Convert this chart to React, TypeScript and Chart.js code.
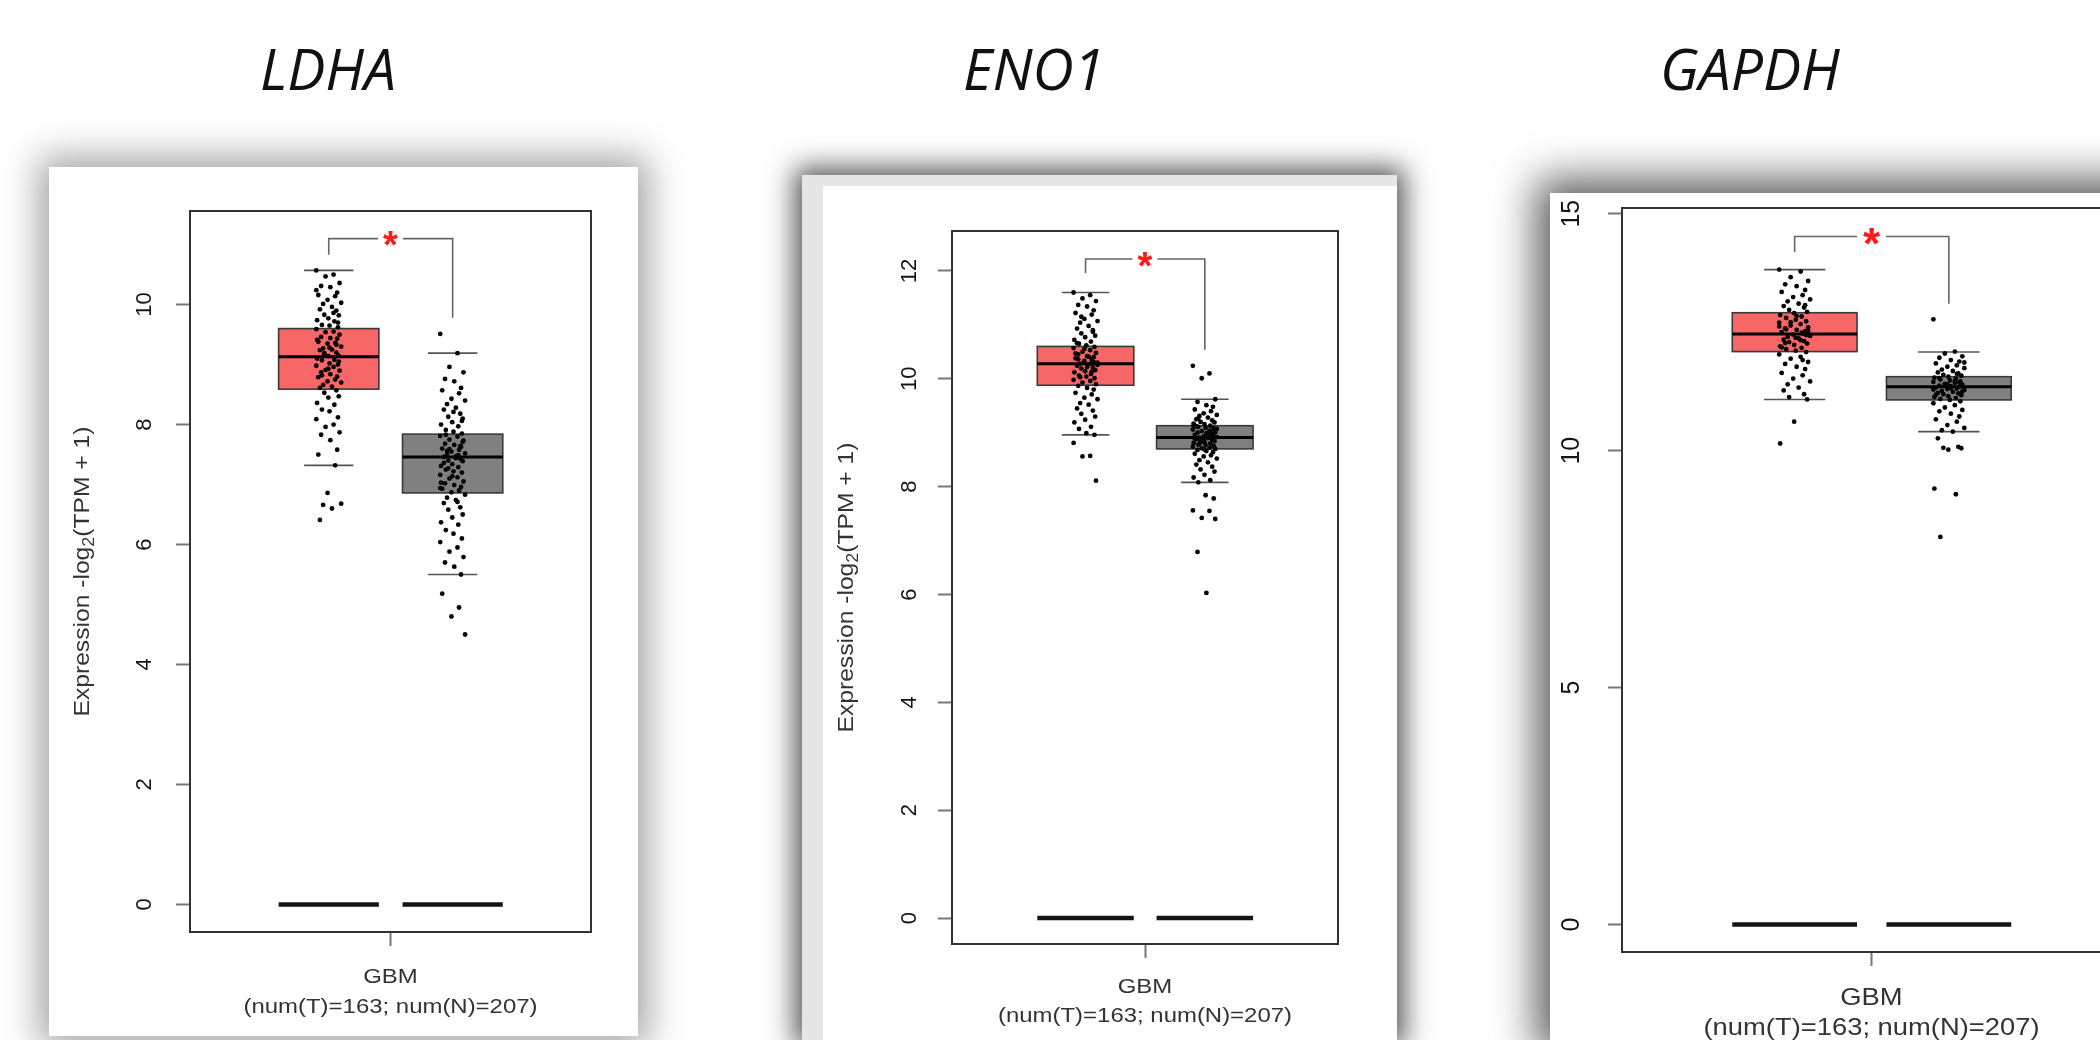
import React, { useEffect, useRef } from 'react';
import { Chart, registerables } from 'chart.js';

Chart.register(...registerables);

// ---------------- data ----------------
const GENES = ['LDHA', 'ENO1', 'GAPDH'];
const CATEGORY = 'GBM';
const COUNTS_LABEL = '(num(T)=163; num(N)=207)';
const Y_TITLE_PARTS = ['Expression -log', '2', '(TPM + 1)'];
const SIGNIF = '*';
const ZERO_LEVEL = 0;

const LDHA_Y_TICKS = [0, 2, 4, 6, 8, 10];
const ENO1_Y_TICKS = [0, 2, 4, 6, 8, 10, 12];
const GAPDH_Y_TICKS = [0, 5, 10, 15];

const LDHA_Y_RANGE = [-0.46, 11.56];
const ENO1_Y_RANGE = [-0.48, 12.74];
const GAPDH_Y_RANGE = [-0.58, 15.12];

// [lower whisker, Q1, median, Q3, upper whisker]
const LDHA_T_BOX = [7.32, 8.59, 9.13, 9.6, 10.57];
const LDHA_N_BOX = [5.5, 6.86, 7.46, 7.84, 9.19];
const ENO1_T_BOX = [8.96, 9.88, 10.28, 10.6, 11.6];
const ENO1_N_BOX = [8.08, 8.7, 8.91, 9.13, 9.62];
const GAPDH_T_BOX = [11.08, 12.09, 12.46, 12.91, 13.82];
const GAPDH_N_BOX = [10.4, 11.07, 11.35, 11.56, 12.08];

// [bracket top, left end, right end]
const LDHA_BRACKET = [11.1, 10.83, 9.78];
const ENO1_BRACKET = [12.22, 11.96, 10.54];
const GAPDH_BRACKET = [14.52, 14.19, 13.1];

const LDHA_T_POINTS = [10.57, 10.5, 10.47, 10.36, 10.31, 10.29, 10.2, 10.16, 10.14, 10.08, 10.03, 10.01, 9.96, 9.92, 9.9, 9.83, 9.82, 9.77, 9.74, 9.72, 9.66, 9.65, 9.62, 9.59, 9.55, 9.54, 9.5, 9.46, 9.44, 9.43, 9.38, 9.36, 9.35, 9.3, 9.27, 9.25, 9.24, 9.2, 9.17, 9.15, 9.14, 9.1, 9.08, 9.07, 9.02, 9.0, 8.98, 8.96, 8.91, 8.9, 8.87, 8.84, 8.8, 8.79, 8.75, 8.72, 8.7, 8.66, 8.63, 8.61, 8.57, 8.53, 8.47, 8.45, 8.36, 8.33, 8.25, 8.22, 8.12, 8.09, 8.0, 7.96, 7.87, 7.83, 7.74, 7.58, 7.5, 7.32, 6.86, 6.68, 6.66, 6.6, 6.41, 9.33, 9.19, 9.05, 8.93, 9.41, 9.12, 8.82, 9.28, 9.7, 10.24, 9.86];
const LDHA_N_POINTS = [9.51, 9.19, 8.96, 8.87, 8.76, 8.72, 8.61, 8.57, 8.52, 8.43, 8.4, 8.34, 8.28, 8.25, 8.18, 8.13, 8.1, 8.04, 8.0, 7.97, 7.91, 7.88, 7.85, 7.81, 7.8, 7.75, 7.73, 7.68, 7.66, 7.63, 7.6, 7.58, 7.55, 7.52, 7.5, 7.47, 7.46, 7.43, 7.4, 7.39, 7.34, 7.31, 7.29, 7.25, 7.22, 7.2, 7.16, 7.12, 7.1, 7.05, 7.02, 6.99, 6.96, 6.93, 6.9, 6.87, 6.83, 6.78, 6.74, 6.69, 6.62, 6.58, 6.5, 6.45, 6.37, 6.33, 6.24, 6.18, 6.1, 6.04, 5.95, 5.88, 5.79, 5.7, 5.63, 5.5, 5.18, 4.95, 4.8, 4.5, 7.56, 7.44, 7.36, 7.64, 7.27, 7.71, 7.14, 7.03, 7.49, 7.83, 8.21, 8.06, 6.94, 6.71, 7.59];
const ENO1_T_POINTS = [11.6, 11.55, 11.49, 11.44, 11.37, 11.34, 11.27, 11.22, 11.19, 11.11, 11.07, 11.04, 10.98, 10.93, 10.9, 10.84, 10.8, 10.77, 10.72, 10.69, 10.65, 10.62, 10.59, 10.57, 10.53, 10.5, 10.48, 10.45, 10.42, 10.4, 10.38, 10.35, 10.33, 10.3, 10.28, 10.27, 10.24, 10.21, 10.19, 10.16, 10.14, 10.12, 10.09, 10.06, 10.04, 10.01, 9.98, 9.96, 9.93, 9.9, 9.87, 9.83, 9.8, 9.74, 9.71, 9.65, 9.62, 9.55, 9.52, 9.45, 9.41, 9.35, 9.3, 9.24, 9.19, 9.11, 9.07, 8.99, 8.96, 8.81, 8.57, 8.56, 8.11, 10.36, 10.22, 10.31, 10.47, 10.13, 10.55, 10.26, 10.03, 10.41, 10.66, 10.87, 11.15];
const ENO1_N_POINTS = [10.24, 10.1, 10.01, 9.62, 9.57, 9.51, 9.48, 9.43, 9.4, 9.36, 9.33, 9.31, 9.28, 9.25, 9.23, 9.2, 9.19, 9.16, 9.14, 9.13, 9.11, 9.09, 9.08, 9.06, 9.04, 9.03, 9.01, 9.0, 8.99, 8.97, 8.96, 8.94, 8.93, 8.92, 8.91, 8.9, 8.88, 8.87, 8.86, 8.84, 8.83, 8.81, 8.8, 8.78, 8.77, 8.75, 8.74, 8.72, 8.71, 8.7, 8.68, 8.66, 8.64, 8.61, 8.58, 8.56, 8.52, 8.49, 8.45, 8.41, 8.37, 8.32, 8.28, 8.22, 8.17, 8.12, 8.08, 7.84, 7.78, 7.56, 7.55, 7.42, 7.4, 6.79, 6.03, 8.95, 8.89, 9.02, 8.85, 9.07, 8.79, 8.98, 9.12, 8.93, 8.82, 9.05, 8.69, 9.17, 8.91, 9.26];
const GAPDH_T_POINTS = [13.82, 13.78, 13.66, 13.58, 13.51, 13.47, 13.39, 13.35, 13.28, 13.24, 13.19, 13.15, 13.1, 13.05, 13.02, 12.97, 12.93, 12.9, 12.86, 12.83, 12.8, 12.76, 12.73, 12.7, 12.67, 12.64, 12.6, 12.58, 12.55, 12.52, 12.5, 12.47, 12.45, 12.42, 12.4, 12.37, 12.34, 12.31, 12.29, 12.26, 12.23, 12.2, 12.17, 12.14, 12.11, 12.08, 12.03, 11.98, 11.94, 11.87, 11.83, 11.77, 11.72, 11.64, 11.59, 11.52, 11.46, 11.4, 11.33, 11.27, 11.19, 11.13, 11.08, 10.61, 10.15, 12.49, 12.56, 12.38, 12.44, 12.62, 12.33, 12.71, 12.53, 12.27, 12.84, 13.07, 12.18, 11.91];
const GAPDH_N_POINTS = [12.77, 12.09, 12.05, 11.99, 11.96, 11.91, 11.88, 11.84, 11.8, 11.77, 11.74, 11.71, 11.68, 11.65, 11.63, 11.6, 11.58, 11.56, 11.54, 11.52, 11.5, 11.48, 11.46, 11.45, 11.43, 11.41, 11.39, 11.37, 11.36, 11.35, 11.33, 11.31, 11.3, 11.28, 11.26, 11.24, 11.22, 11.21, 11.19, 11.17, 11.15, 11.13, 11.11, 11.09, 11.07, 11.04, 11.0, 10.96, 10.91, 10.86, 10.83, 10.78, 10.72, 10.66, 10.61, 10.54, 10.48, 10.43, 10.4, 10.26, 10.08, 10.06, 10.05, 10.02, 9.2, 9.08, 8.18, 11.34, 11.42, 11.29, 11.47, 11.38, 11.25, 11.53, 11.32, 11.44, 11.18, 11.62, 11.4, 11.86];

// horizontal jitter of the points (x units)
const JITTER = [-0.031, 0.012, -0.008, 0.027, -0.019, 0.004, 0.021, -0.026, 0.016, -0.003, 0.031, -0.014, 0.008, -0.022, 0.019, -0.011, 0.025, -0.001, -0.029, 0.014, -0.017, 0.002, 0.023];

// ---------------- layout / style ----------------
const X_RANGE = [0.5, 1.5];
const CAT_POS = 1;
const GROUP_POS = [0.846, 1.155];
const BOX_W = 0.25;
const CAP_W = 0.123;
const T_FILL = '#F86767';
const N_FILL = '#808080';
const TICK_LEN = 14;
const SANS = '"Liberation Sans", Arial, Helvetica, sans-serif';

type Spec = {
  gene: string;
  tBox: number[]; nBox: number[];
  tPts: number[]; nPts: number[];
  bracket: number[];
  yRange: number[]; yTicks: number[];
  card: { left: number; top: number; width: number; height: number };
  band?: { left: number; top: number };
  shadow: string;
  area: { left: number; right: number; top: number; bottom: number };
  tickLabelDx: number;
  titleDx: number | null;
  labelDy: number[];
  tickFont: number; labelFont: number; titleFont: number; starFont: number;
  titleCx: number;
};

const SPECS: Spec[] = [
  {
    gene: GENES[0], tBox: LDHA_T_BOX, nBox: LDHA_N_BOX, tPts: LDHA_T_POINTS, nPts: LDHA_N_POINTS,
    bracket: LDHA_BRACKET, yRange: LDHA_Y_RANGE, yTicks: LDHA_Y_TICKS,
    card: { left: 49, top: 167, width: 589, height: 869 },
    shadow: '0 0 34px 10px rgba(0,0,0,0.36)',
    area: { left: 141, right: 542, top: 44, bottom: 765 },
    tickLabelDx: -45, titleDx: -107, labelDy: [45, 75],
    tickFont: 22, labelFont: 21, titleFont: 22, starFont: 38, titleCx: 328,
  },
  {
    gene: GENES[1], tBox: ENO1_T_BOX, nBox: ENO1_N_BOX, tPts: ENO1_T_POINTS, nPts: ENO1_N_POINTS,
    bracket: ENO1_BRACKET, yRange: ENO1_Y_RANGE, yTicks: ENO1_Y_TICKS,
    card: { left: 802, top: 175, width: 595, height: 865 },
    band: { left: 21, top: 11 },
    shadow: '0 0 26px 7px rgba(0,0,0,0.68)',
    area: { left: 150, right: 536, top: 56, bottom: 769 },
    tickLabelDx: -42, titleDx: -105, labelDy: [43, 72],
    tickFont: 22, labelFont: 21, titleFont: 22, starFont: 38, titleCx: 1034,
  },
  {
    gene: GENES[2], tBox: GAPDH_T_BOX, nBox: GAPDH_N_BOX, tPts: GAPDH_T_POINTS, nPts: GAPDH_N_POINTS,
    bracket: GAPDH_BRACKET, yRange: GAPDH_Y_RANGE, yTicks: GAPDH_Y_TICKS,
    card: { left: 1550, top: 193, width: 600, height: 847 },
    shadow: '0 0 40px 13px rgba(0,0,0,0.66)',
    area: { left: 72, right: 571, top: 15, bottom: 759 },
    tickLabelDx: -50, titleDx: null, labelDy: [46, 76],
    tickFont: 25, labelFont: 24, titleFont: 25, starFont: 44, titleCx: 1750,
  },
];

function txt(ctx: CanvasRenderingContext2D, s: string, x: number, y: number, size: number,
  color: string, stretch = 1, rot = 0) {
  ctx.save();
  ctx.translate(x, y);
  if (rot) ctx.rotate(rot);
  ctx.scale(stretch, 1);
  ctx.font = `${size}px ${SANS}`;
  ctx.fillStyle = color;
  ctx.textAlign = 'center';
  ctx.textBaseline = 'middle';
  ctx.fillText(s, 0, 0);
  ctx.restore();
}

function makePlugin(sp: Spec) {
  return {
    id: 'gepiaBox',
    beforeDatasetsDraw(chart: any) {
      const { ctx, scales } = chart;
      const x = scales.x, y = scales.y;
      ctx.save();
      const groups = [
        { pos: GROUP_POS[0], box: sp.tBox, fill: T_FILL },
        { pos: GROUP_POS[1], box: sp.nBox, fill: N_FILL },
      ];
      groups.forEach((g) => {
        const xl = x.getPixelForValue(g.pos - BOX_W / 2);
        const xr = x.getPixelForValue(g.pos + BOX_W / 2);
        const cl = x.getPixelForValue(g.pos - CAP_W / 2);
        const cr = x.getPixelForValue(g.pos + CAP_W / 2);
        const [lo, q1, med, q3, hi] = g.box;
        // zero-level flat box
        ctx.strokeStyle = '#151515';
        ctx.lineWidth = 4.5;
        ctx.beginPath();
        ctx.moveTo(xl, y.getPixelForValue(ZERO_LEVEL));
        ctx.lineTo(xr, y.getPixelForValue(ZERO_LEVEL));
        ctx.stroke();
        // box
        const yt = y.getPixelForValue(q3), yb = y.getPixelForValue(q1);
        ctx.fillStyle = g.fill;
        ctx.fillRect(xl, yt, xr - xl, yb - yt);
        ctx.strokeStyle = '#3a3a3a';
        ctx.lineWidth = 1.6;
        ctx.strokeRect(xl, yt, xr - xl, yb - yt);
        // median
        ctx.strokeStyle = '#000';
        ctx.lineWidth = 3;
        ctx.beginPath();
        ctx.moveTo(xl, y.getPixelForValue(med));
        ctx.lineTo(xr, y.getPixelForValue(med));
        ctx.stroke();
        // whisker caps
        ctx.strokeStyle = '#555';
        ctx.lineWidth = 1.6;
        [lo, hi].forEach((v) => {
          ctx.beginPath();
          ctx.moveTo(cl, y.getPixelForValue(v));
          ctx.lineTo(cr, y.getPixelForValue(v));
          ctx.stroke();
        });
      });
      ctx.restore();
    },
    afterDraw(chart: any) {
      const { ctx, scales, chartArea: a } = chart;
      const x = scales.x, y = scales.y;
      ctx.save();
      // plot frame
      ctx.strokeStyle = '#333';
      ctx.lineWidth = 2;
      ctx.strokeRect(a.left, a.top, a.right - a.left, a.bottom - a.top);
      // significance bracket
      const [bt, bl, br] = sp.bracket;
      const xl = x.getPixelForValue(GROUP_POS[0]);
      const xr = x.getPixelForValue(GROUP_POS[1]);
      const xm = x.getPixelForValue(CAT_POS);
      const yt = y.getPixelForValue(bt);
      const gap = sp.starFont * 0.33;
      ctx.strokeStyle = '#666';
      ctx.lineWidth = 1.6;
      ctx.beginPath();
      ctx.moveTo(xl, y.getPixelForValue(bl));
      ctx.lineTo(xl, yt);
      ctx.lineTo(xm - gap, yt);
      ctx.moveTo(xm + gap, yt);
      ctx.lineTo(xr, yt);
      ctx.lineTo(xr, y.getPixelForValue(br));
      ctx.stroke();
      ctx.font = `bold ${sp.starFont}px ${SANS}`;
      ctx.fillStyle = '#FF1A1A';
      ctx.textAlign = 'center';
      ctx.textBaseline = 'alphabetic';
      const m = ctx.measureText(SIGNIF);
      const off = (m.actualBoundingBoxAscent - m.actualBoundingBoxDescent) / 2;
      ctx.fillText(SIGNIF, xm, yt + off);
      // y tick labels (rotated, R style)
      sp.yTicks.forEach((v) => {
        txt(ctx, String(v), a.left + sp.tickLabelDx, y.getPixelForValue(v), sp.tickFont, '#151515', 1, -Math.PI / 2);
      });
      // y title with subscript
      if (sp.titleDx !== null) {
        const f = sp.titleFont, st = 1.12;
        const fs = Math.round(f * 0.72);
        ctx.save();
        ctx.translate(a.left + sp.titleDx, (a.top + a.bottom) / 2);
        ctx.rotate(-Math.PI / 2);
        ctx.scale(st, 1);
        ctx.fillStyle = '#333';
        ctx.textBaseline = 'middle';
        ctx.textAlign = 'left';
        ctx.font = `${f}px ${SANS}`;
        const w1 = ctx.measureText(Y_TITLE_PARTS[0]).width;
        const w3 = ctx.measureText(Y_TITLE_PARTS[2]).width;
        ctx.font = `${fs}px ${SANS}`;
        const w2 = ctx.measureText(Y_TITLE_PARTS[1]).width;
        let cx = -(w1 + w2 + w3) / 2;
        ctx.font = `${f}px ${SANS}`;
        ctx.fillText(Y_TITLE_PARTS[0], cx, 0);
        cx += w1;
        ctx.font = `${fs}px ${SANS}`;
        ctx.fillText(Y_TITLE_PARTS[1], cx, f * 0.3);
        cx += w2;
        ctx.font = `${f}px ${SANS}`;
        ctx.fillText(Y_TITLE_PARTS[2], cx, 0);
        ctx.restore();
      }
      // x labels
      txt(ctx, CATEGORY, xm, a.bottom + sp.labelDy[0], sp.labelFont, '#333', 1.14);
      txt(ctx, COUNTS_LABEL, xm, a.bottom + sp.labelDy[1], sp.labelFont, '#333', 1.14);
      ctx.restore();
    },
  };
}

function Panel({ sp }: { sp: Spec }) {
  const ref = useRef<HTMLCanvasElement>(null);
  useEffect(() => {
    const canvas = ref.current;
    if (!canvas) return;
    const { card, area } = sp;
    const toPts = (vals: number[], pos: number) =>
      vals.map((v, i) => ({ x: pos + JITTER[i % JITTER.length], y: v }));
    const pointStyle = {
      pointRadius: 2.4,
      pointBorderWidth: 0,
      pointBackgroundColor: '#050505',
      showLine: false,
    };
    const gridOpts = {
      drawOnChartArea: false,
      drawTicks: true,
      tickLength: TICK_LEN,
      tickColor: '#777',
      tickWidth: 2,
    };
    const chart = new Chart(canvas, {
      type: 'scatter',
      data: {
        datasets: [
          { data: toPts(sp.tPts, GROUP_POS[0]), ...pointStyle },
          { data: toPts(sp.nPts, GROUP_POS[1]), ...pointStyle },
        ],
      },
      options: {
        animation: false,
        responsive: false,
        devicePixelRatio: 1,
        events: [],
        layout: {
          padding: {
            left: area.left - TICK_LEN,
            right: card.width - area.right,
            top: area.top,
            bottom: card.height - area.bottom - TICK_LEN,
          },
        },
        plugins: { legend: { display: false }, tooltip: { enabled: false } },
        scales: {
          x: {
            type: 'linear',
            min: X_RANGE[0],
            max: X_RANGE[1],
            afterBuildTicks: (s: any) => { s.ticks = [{ value: CAT_POS }]; },
            afterFit: (s: any) => { s.height = TICK_LEN; },
            ticks: { display: false },
            grid: gridOpts,
            border: { display: false },
          },
          y: {
            type: 'linear',
            min: sp.yRange[0],
            max: sp.yRange[1],
            afterBuildTicks: (s: any) => { s.ticks = sp.yTicks.map((v) => ({ value: v })); },
            afterFit: (s: any) => { s.width = TICK_LEN; },
            ticks: { display: false },
            grid: gridOpts,
            border: { display: false },
          },
        },
      } as any,
      plugins: [makePlugin(sp)],
    });
    return () => chart.destroy();
  }, [sp]);

  const { card, band } = sp;
  return (
    <div
      style={{
        position: 'absolute', left: card.left, top: card.top, width: card.width, height: card.height,
        background: band ? '#e6e6e6' : '#fff', boxShadow: sp.shadow,
      }}
    >
      {band && (
        <div style={{ position: 'absolute', left: band.left, top: band.top, right: 0, bottom: 0, background: '#fff' }} />
      )}
      <canvas
        ref={ref}
        width={card.width}
        height={card.height}
        style={{
          position: 'absolute', left: 0, top: 0, width: card.width, height: card.height, filter: 'blur(0.45px)',
        }}
      />
    </div>
  );
}

export default function App() {
  return (
    <div
      style={{
        position: 'absolute', left: 0, top: 0, width: 2100, height: 1040, overflow: 'hidden', background: '#fff',
      }}
    >
      {SPECS.map((sp) => (
        <div
          key={sp.gene + '-t'}
          style={{
            position: 'absolute', left: sp.titleCx - 200, top: 40, width: 400, textAlign: 'center',
            fontFamily: '"Open Sans", "Noto Sans", sans-serif', fontStyle: 'italic', fontSize: 57,
            lineHeight: '57px', color: '#111',
          }}
        >
          {sp.gene}
        </div>
      ))}
      {SPECS.map((sp) => (
        <Panel key={sp.gene} sp={sp} />
      ))}
    </div>
  );
}
